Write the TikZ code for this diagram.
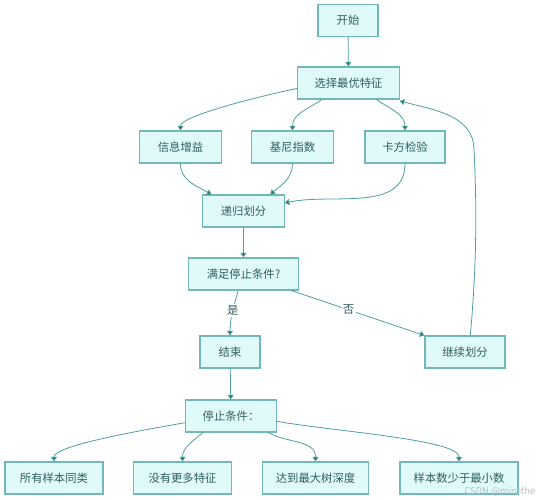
\documentclass[tikz,border=0pt]{standalone}
\usepackage{fontspec}
\setmainfont{Noto Sans CJK SC}
\usepackage{xcolor}
\usepackage{tikz}
\usetikzlibrary{shapes,arrows,positioning,calc,arrows.meta}

\definecolor{boxfill}{HTML}{E0F9F9}
\definecolor{boxline}{HTML}{72B8B8}
\definecolor{flowline}{HTML}{4E9E9E}
\definecolor{tiptone}{HTML}{1F7272}
\definecolor{txttone}{HTML}{2F5F5F}

\tikzset{
    stepbox/.style={draw=boxline, fill=boxfill, line width=0.8pt, text=txttone,
        minimum height=24pt, inner sep=0pt, font=\fontsize{8.5}{10}\selectfont},
    flow/.style={draw=flowline, line width=0.6pt,
        -{Triangle[length=3.5pt,width=4.5pt,fill=tiptone]}},
    lbl/.style={fill=white, inner sep=1pt, text=txttone, font=\fontsize{8.5}{10}\selectfont}
}

\begin{document}
\begin{tikzpicture}[x=0.75pt, y=-0.75pt]
    \useasboundingbox (0,0) rectangle (540,500);

    % Main flow
    \node[stepbox, minimum width=45pt] (start) at (348,20.5) {开始};
    \node[stepbox, minimum width=76pt] (select) at (348.5,83) {选择最优特征};
    \node[stepbox, minimum width=61pt] (info) at (180.5,147) {信息增益};
    \node[stepbox, minimum width=61pt] (gini) at (292.5,147) {基尼指数};
    \node[stepbox, minimum width=60pt] (chi) at (405,147) {卡方检验};
    \node[stepbox, minimum width=61pt] (split) at (243.5,211) {递归划分};
    \node[stepbox, minimum width=83pt] (cond) at (243.5,274) {满足停止条件?};
    \node[stepbox, minimum width=45pt] (finish) at (230,352) {结束};
    \node[stepbox, minimum width=60pt] (cont) at (465,352) {继续划分};
    \node[stepbox, minimum width=68pt] (stops) at (231,416) {停止条件：};

    % Stop conditions
    \foreach \n/\x/\w/\t in {s1/54/73.5/所有样本同类, s2/182.5/73/没有更多特征,
                             s3/315.5/80/达到最大树深度, s4/459/88.5/样本数少于最小数}
        \node[stepbox, minimum width=\w pt] (\n) at (\x,478) {\t};

    \draw[flow] (start) -- (select);
    \draw[flow] ([yshift=-4pt]select.west) to[out=-168, in=90, out looseness=0.8, in looseness=0.3] (info.north);
    \draw[flow] ([xshift=-20pt]select.south) to[out=-145, in=90] (gini.north);
    \draw[flow] ([xshift=21pt]select.south) to[out=-35, in=90] (chi.north);

    \draw[flow] (info.south) to[out=-90, in=150] ([xshift=-24pt]split.north);
    \draw[flow] (gini.south) to[out=-90, in=40] ([xshift=20pt]split.north);
    \draw[flow] (chi.south) to[out=-90, in=12] ([yshift=6pt]split.east);

    \draw[flow] (split) -- (cond);
    \draw[flow] ([xshift=-4pt]cond.south) to[out=-105, in=90]
        node[lbl, pos=0.45] {是} (finish.north);
    \draw[flow] ([xshift=-6pt]cond.south east) -- node[lbl, pos=0.43] {否} (cont.north west);
    \draw[flow] ([xshift=4pt]cont.north) .. controls (478,250) and (476,190) ..
        (474,150) to[out=90, in=-15] ([yshift=-1pt]select.south east);

    \draw[flow] (finish) -- (stops);
    \draw[flow] ([yshift=-5pt]stops.west) to[out=-170, in=90, out looseness=0.8, in looseness=0.3] (s1.north);
    \draw[flow] ([xshift=-21pt]stops.south) to[out=-140, in=90] (s2.north);
    \draw[flow] ([xshift=28pt]stops.south) to[out=-30, in=90] (s3.north);
    \draw[flow] ([yshift=-4pt]stops.east) to[out=-10, in=90, out looseness=0.8, in looseness=0.3] (s4.north);

    % Watermark
    \node[text=black!25, font=\fontsize{7}{8}\selectfont, anchor=east] (mark) at (540,492) {CSDN @minsthe};
\end{tikzpicture}
\end{document}
